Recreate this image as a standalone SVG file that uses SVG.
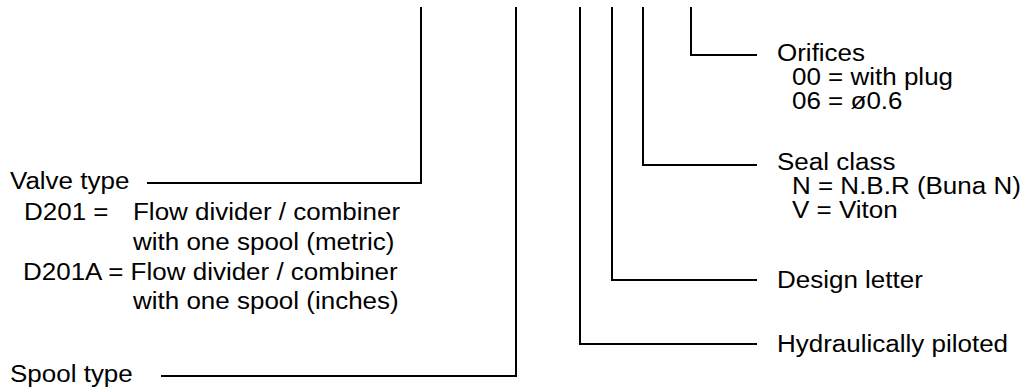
<svg xmlns="http://www.w3.org/2000/svg" width="1029" height="390" viewBox="0 0 1029 390">
<style>
text{font-family:"Liberation Sans",Arial,sans-serif;font-size:23px;fill:#000}
.ln{fill:none;stroke:#000;stroke-width:2}
</style>
<rect width="1029" height="390" fill="#fff"/>
<g id="connectors">
<polyline class="ln" points="421,7 421,183 147,183"/>
<polyline class="ln" points="516,7 516,376 161,376"/>
<polyline class="ln" points="580,7 580,344 757,344"/>
<polyline class="ln" points="612,7 612,280 757,280"/>
<polyline class="ln" points="643,7 643,165 757,165"/>
<polyline class="ln" points="691,7 691,55 757,55"/>
</g>
<g id="valve-type">
<text transform="translate(10 189) scale(1.13 1)">Valve type</text>
<text transform="translate(24 220) scale(1.13 1)">D201 =</text>
<text transform="translate(133 220) scale(1.13 1)">Flow divider / combiner</text>
<text transform="translate(133 250) scale(1.13 1)">with one spool (metric)</text>
<text transform="translate(23 280) scale(1.13 1)">D201A = Flow divider / combiner</text>
<text transform="translate(133 309) scale(1.13 1)">with one spool (inches)</text>
</g>
<g id="spool-type">
<text transform="translate(10 382) scale(1.13 1)">Spool type</text>
</g>
<g id="orifices">
<text transform="translate(777 61) scale(1.13 1)">Orifices</text>
<text transform="translate(792 85) scale(1.13 1)">00 = with plug</text>
<text transform="translate(792 109) scale(1.13 1)">06 = ø0.6</text>
</g>
<g id="seal-class">
<text transform="translate(777 170) scale(1.13 1)">Seal class</text>
<text transform="translate(792 194) scale(1.13 1)">N = N.B.R (Buna N)</text>
<text transform="translate(792 218) scale(1.13 1)">V = Viton</text>
</g>
<g id="design-letter">
<text transform="translate(777 288) scale(1.13 1)">Design letter</text>
</g>
<g id="hydraulically-piloted">
<text transform="translate(777 352) scale(1.13 1)">Hydraulically piloted</text>
</g>
</svg>
